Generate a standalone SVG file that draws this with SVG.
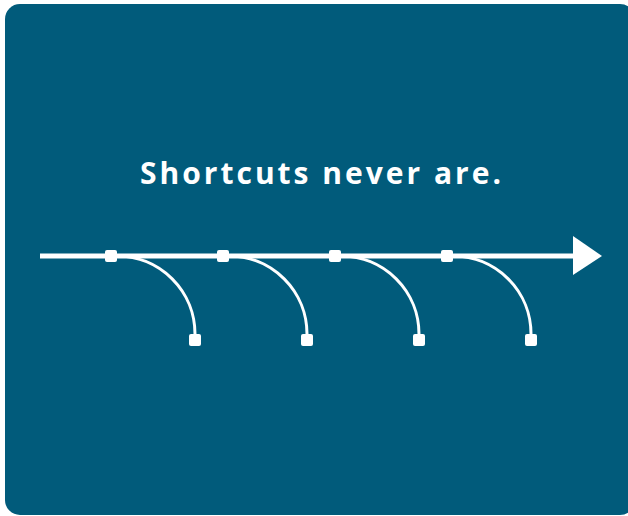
<svg xmlns="http://www.w3.org/2000/svg" width="628" height="516" viewBox="0 0 628 516">
<defs>
<style>
.bg{fill:#015b7b}
.line{stroke:#fff;stroke-width:5;fill:none}
.arc{stroke:#fff;stroke-width:3;fill:none}
.sq{fill:#fff}
.title{font-family:"Open Sans","Noto Sans",sans-serif;font-weight:700;font-size:30px;fill:#fff;letter-spacing:3px}
</style>
</defs>
<rect class="bg" x="5" y="4" width="630" height="511" rx="15" ry="15"/>
<text class="title" x="322" y="184" text-anchor="middle">Shortcuts never are.</text>
<g id="connectors">
<line class="line" x1="40" y1="256" x2="576" y2="256"/>
<polygon class="sq" points="573,236 602,256 573,275"/>
<path class="arc" d="M117,256 A78,78 0 0 1 195,334"/>
<path class="arc" d="M229,256 A78,78 0 0 1 307,334"/>
<path class="arc" d="M341,256 A78,78 0 0 1 419,334"/>
<path class="arc" d="M453,256 A78,78 0 0 1 531,334"/>
</g>
<g id="node1"><rect class="sq" x="105" y="250" width="12" height="12" rx="2"/></g>
<g id="node2"><rect class="sq" x="217" y="250" width="12" height="12" rx="2"/></g>
<g id="node3"><rect class="sq" x="329" y="250" width="12" height="12" rx="2"/></g>
<g id="node4"><rect class="sq" x="441" y="250" width="12" height="12" rx="2"/></g>
<g id="end1"><rect class="sq" x="189" y="334" width="12" height="12" rx="2"/></g>
<g id="end2"><rect class="sq" x="301" y="334" width="12" height="12" rx="2"/></g>
<g id="end3"><rect class="sq" x="413" y="334" width="12" height="12" rx="2"/></g>
<g id="end4"><rect class="sq" x="525" y="334" width="12" height="12" rx="2"/></g>
</svg>
